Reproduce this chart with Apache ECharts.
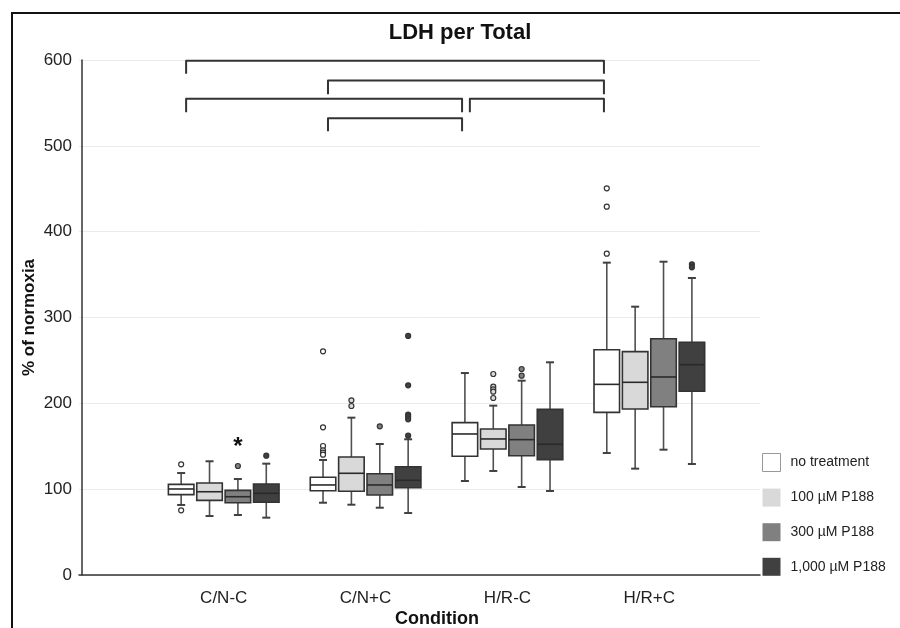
<!DOCTYPE html>
<html>
<head>
<meta charset="utf-8">
<script src="https://cdn.jsdelivr.net/npm/echarts@6/dist/echarts.min.js"></script>
<style>
html,body{margin:0;padding:0;background:#fff;}
#chart{width:900px;height:628px;}
</style>
</head>
<body>
<div id="chart"></div>
<script>
// ---------- data ----------
const categories = ['C/N-C', 'C/N+C', 'H/R-C', 'H/R+C'];
const treatments = ['no treatment', '100 µM P188', '300 µM P188', '1,000 µM P188'];
const yTicks = [0, 100, 200, 300, 400, 500, 600];

// box stats per group: [min, q1, median, q3, max]
const noTreatment = [[81.6, 93.6, 100.2, 105.6, 118.8], [84.2, 98.2, 104.9, 113.8, 134], [109.5, 138.3, 164.3, 177.5, 235.3], [142.1, 189.5, 222.1, 262.5, 363.9]];
const p188_100 = [[68.7, 87, 97, 107.2, 132.5], [81.9, 97.5, 118.5, 137.5, 183.3], [121.2, 146.8, 158.5, 170.1, 197.3], [123.9, 193.4, 224.5, 260.2, 312.6]];
const p188_300 = [[69.9, 84.2, 91.2, 98.6, 111.8], [78.4, 93.2, 104.9, 118, 152.6], [102.5, 139, 157.7, 174.8, 226.4], [146, 196.1, 230.7, 275.3, 365]];
const p188_1000 = [[66.8, 84.7, 95.2, 106, 129.7], [72.2, 101.7, 110.3, 126.2, 158.1], [97.9, 134.4, 152.3, 193, 247.8], [129.3, 214, 245, 271.1, 346]];

// outliers: [groupIndex, value]
const noTreatmentOut = [[0, 129], [0, 75.4], [1, 260.6], [1, 172], [1, 150.3], [1, 145.3], [1, 142.5], [1, 140.2], [3, 450.5], [3, 429.1], [3, 374.4]];
const p188_100Out = [[1, 203.5], [1, 196.9], [2, 234.2], [2, 219.4], [2, 216.3], [2, 213.6], [2, 206.2]];
const p188_300Out = [[0, 127], [1, 173.2], [2, 240], [2, 232.2]];
const p188_1000Out = [[0, 139], [1, 278.5], [1, 221], [1, 186.9], [1, 184.5], [1, 181.4], [1, 162.3], [3, 362], [3, 358.5]];

// significance brackets between "no treatment" boxes: [fromGroup, toGroup, topValue, tipValue]
const brackets = [[0, 3, 599, 584], [1, 3, 576, 560], [0, 2, 555, 539], [2, 3, 555, 539], [1, 2, 532, 517]];
// star marks: [groupIndex, treatmentIndex, value]
const stars = [[0, 2, 149]];

// ---------- styles / layout ----------
const boxStats = [noTreatment, p188_100, p188_300, p188_1000];
const outliers = [noTreatmentOut, p188_100Out, p188_300Out, p188_1000Out];
const fills = ['#ffffff', '#d9d9d9', '#808080', '#404040'];
const STEP = 0.2, BOXW = 0.18;
const FONT = '"Liberation Sans", Arial, Helvetica, sans-serif';
function pos(g, t) { return (g + 1) + (t - 1.5) * STEP; }

function boxRender(params, api) {
  const x = api.value(0);
  const pMin = api.coord([x, api.value(1)]);
  const pQ1 = api.coord([x, api.value(2)]);
  const pMed = api.coord([x, api.value(3)]);
  const pQ3 = api.coord([x, api.value(4)]);
  const pMax = api.coord([x, api.value(5)]);
  const hw = api.size([BOXW, 0])[0] / 2;
  const cap = 4;
  const fill = api.visual('color');
  const cx = pMed[0];
  const wStyle = { stroke: '#505050', lineWidth: 1.6 };
  return {
    type: 'group',
    children: [
      { type: 'line', shape: { x1: cx, y1: pMax[1], x2: cx, y2: pQ3[1] }, style: wStyle },
      { type: 'line', shape: { x1: cx, y1: pQ1[1], x2: cx, y2: pMin[1] }, style: wStyle },
      { type: 'line', shape: { x1: cx - cap, y1: pMax[1], x2: cx + cap, y2: pMax[1] }, style: { stroke: '#404040', lineWidth: 2 } },
      { type: 'line', shape: { x1: cx - cap, y1: pMin[1], x2: cx + cap, y2: pMin[1] }, style: { stroke: '#404040', lineWidth: 2 } },
      { type: 'rect', shape: { x: cx - hw, y: pQ3[1], width: hw * 2, height: pQ1[1] - pQ3[1] }, style: { fill: fill, stroke: '#333333', lineWidth: 1.6 } },
      { type: 'line', shape: { x1: cx - hw, y1: pMed[1], x2: cx + hw, y2: pMed[1] }, style: { stroke: '#2a2a2a', lineWidth: 1.6 } }
    ]
  };
}

function bracketRender(params, api) {
  const g1 = api.value(0), g2 = api.value(1);
  const xl = pos(g1, 0) + 0.035, xr = pos(g2, 0) - 0.02;
  const a = api.coord([xl, api.value(3)]);
  const b = api.coord([xl, api.value(2)]);
  const c = api.coord([xr, api.value(2)]);
  const d = api.coord([xr, api.value(3)]);
  return {
    type: 'polyline',
    shape: { points: [a, b, c, d] },
    style: { stroke: '#333333', lineWidth: 2, fill: 'none', lineJoin: 'round' }
  };
}

function starRender(params, api) {
  const p = api.coord([api.value(0), api.value(1)]);
  return {
    type: 'text', x: p[0], y: p[1],
    style: { text: '*', fill: '#111', font: 'bold 24px ' + FONT, align: 'center', verticalAlign: 'middle' }
  };
}

const series = [];
treatments.forEach((name, t) => {
  series.push({
    name: name,
    type: 'custom',
    renderItem: boxRender,
    clip: false,
    itemStyle: { color: fills[t] },
    encode: { x: 0, y: [1, 2, 3, 4, 5] },
    data: boxStats[t].map((s, g) => [pos(g, t)].concat(s)),
    z: 3
  });
  series.push({
    name: name,
    type: 'scatter',
    symbol: 'circle',
    symbolSize: 5,
    itemStyle: { color: fills[t], borderColor: '#333333', borderWidth: 1.2, opacity: 1 },
    data: outliers[t].map(o => [pos(o[0], t), o[1]]),
    z: 4
  });
});
series.push({
  name: 'brackets',
  type: 'custom',
  renderItem: bracketRender,
  clip: false,
  encode: { x: [], y: [2, 3] },
  data: brackets,
  z: 5
});
series.push({
  name: 'stars',
  type: 'custom',
  renderItem: starRender,
  clip: false,
  encode: { x: 0, y: 1 },
  data: stars.map(s => [pos(s[0], s[1]), s[2]]),
  z: 5
});

const chart = echarts.init(document.getElementById('chart'), null, { renderer: 'canvas' });
chart.setOption({
  animation: false,
  backgroundColor: '#ffffff',
  textStyle: { fontFamily: FONT },
  grid: { left: 79, right: 140, top: 60, bottom: 53, containLabel: false },
  xAxis: {
    type: 'value',
    min: -0.02,
    max: 4.78,
    axisLine: { show: true, onZero: false, lineStyle: { color: '#333333', width: 1.5 } },
    axisTick: { show: false },
    splitLine: { show: false },
    axisLabel: {
      customValues: [1, 2, 3, 4],
      formatter: v => categories[Math.round(v) - 1] || '',
      fontSize: 17, color: '#222', margin: 15, fontFamily: FONT
    }
  },
  yAxis: {
    type: 'value',
    min: 0, max: 600, interval: 100,
    axisLine: { show: true, lineStyle: { color: '#333333', width: 1.5 } },
    axisTick: { show: false },
    splitLine: { show: true, lineStyle: { color: '#ebebeb', width: 1 } },
    axisLabel: { fontSize: 17, color: '#222', margin: 7, fontFamily: FONT, formatter: v => (yTicks.indexOf(v) >= 0 ? String(v) : '') },
    name: '% of normoxia',
    nameLocation: 'middle',
    nameRotate: 90,
    nameGap: 41,
    nameMoveOverlap: false,
    nameTextStyle: { fontSize: 17, fontWeight: 'bold', color: '#111', fontFamily: FONT }
  },
  legend: {
    orient: 'vertical',
    left: 762,
    top: 453,
    itemWidth: 18,
    itemHeight: 18,
    itemGap: 16.6,
    icon: 'rect',
    padding: 0,
    selectedMode: false,
    textStyle: { fontSize: 14, color: '#222', fontFamily: FONT, padding: [0, 0, 0, 5] },
    data: treatments.map((n, t) => ({
      name: n,
      itemStyle: t === 0 ? { color: '#ffffff', borderColor: '#999999', borderWidth: 1 } : { color: fills[t], borderWidth: 0 }
    }))
  },
  graphic: [
    { type: 'rect', z: -10, silent: true, shape: { x: 12, y: 13, width: 1000, height: 1000 }, style: { fill: 'none', stroke: '#111111', lineWidth: 2 } },
    { type: 'text', x: 460, y: 33, style: { text: 'LDH per Total', font: 'bold 22px ' + FONT, fill: '#111', align: 'center', verticalAlign: 'middle' } },
    { type: 'text', x: 437, y: 619, style: { text: 'Condition', font: 'bold 18px ' + FONT, fill: '#111', align: 'center', verticalAlign: 'middle' } }
  ],
  series: series
});
</script>
</body>
</html>
